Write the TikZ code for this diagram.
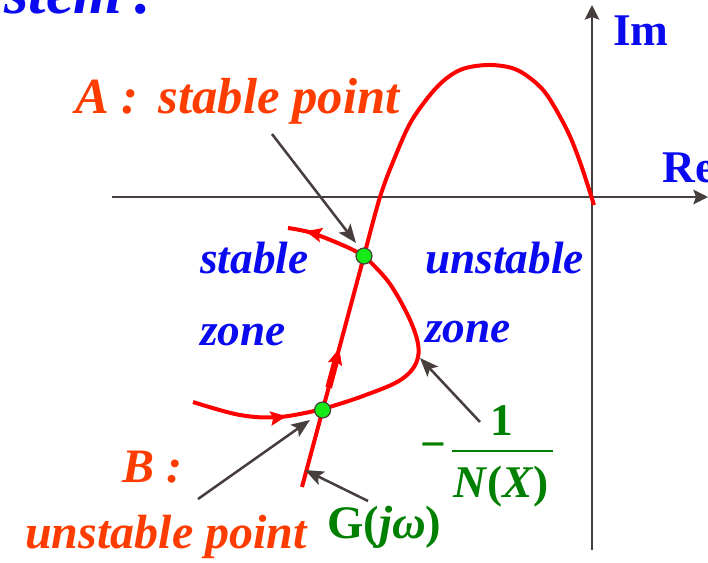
\documentclass[tikz,border=0pt]{standalone}
\usepackage{fontspec}
\setmainfont{Liberation Serif}
\usetikzlibrary{arrows.meta,decorations.markings,calc}
\definecolor{ored}{RGB}{255,60,0}
\definecolor{tblue}{RGB}{10,10,240}
\definecolor{tgreen}{RGB}{0,128,0}
\definecolor{pgray}{RGB}{72,62,62}
\definecolor{dotgreen}{RGB}{20,235,20}
\definecolor{cred}{RGB}{255,0,0}
\tikzset{
  redtip/.tip={Stealth[length=12pt,width=10.5pt,inset=2pt]},
  axistip/.tip={Stealth[length=11pt,width=11pt,inset=2pt]},
  pointtip/.tip={Stealth[length=14pt,width=11pt,inset=3pt]},
}
\begin{document}
\begin{tikzpicture}[x=0.75pt,y=-0.75pt,
  axis/.style={pgray, line width=1.5pt, -axistip},
  curve/.style={cred, line width=3pt},
  pointer/.style={pgray, line width=1.9pt, -pointtip},
  dot/.style={circle, fill=dotgreen, draw=pgray, line width=0.9pt, minimum size=12pt, inner sep=0pt},
  lbl/.style={inner sep=0pt, anchor=base west},
  orangetxt/.style={lbl, text=ored, font=\fontsize{36}{40}\selectfont\bfseries\itshape},
  bluetxt/.style={lbl, text=tblue, font=\fontsize{34}{38}\selectfont\bfseries\itshape},
  greentxt/.style={inner sep=0pt, text=tgreen, font=\fontsize{34}{38}\selectfont\bfseries},
  midarrow/.style={decoration={markings, mark=at position #1 with {\arrow{redtip}}}, postaction={decorate}},
]
\useasboundingbox (0,0) rectangle (708,562);

% axes
\coordinate (reL) at (112,197);
\coordinate (reR) at (708,197);
\coordinate (imB) at (592,550);
\coordinate (imT) at (592,5);
\draw[axis] (reL) -- (reR);
\draw[axis] (imB) -- (imT);
\node[lbl, text=tblue, font=\fontsize{34}{38}\selectfont\bfseries] (Im) at (613,45) {Im};
\node[lbl, text=tblue, font=\fontsize{34}{38}\selectfont\bfseries] (Re) at (662,182) {Re};

% top-left cropped title
\node[lbl, text=tblue, font=\fontsize{47}{50}\selectfont\bfseries\itshape] (stem) at (4,13) {stem\,:};

% G(jw) curve
\coordinate (g0) at (302,487);
\coordinate (gA) at (364,256);
\draw[curve, midarrow=0.6] (g0) -- (gA);
\draw[cred, line width=5pt] ($(g0)!0.43!(gA)$) -- ($(g0)!0.57!(gA)$);
\draw[curve] plot[smooth, tension=0.55] coordinates {(364,256) (380,197) (395,157) (412,120) (437,87) (460,70) (487,65) (512,68) (530,78) (547,95) (567,130) (580,162) (594,205)};

% -1/N(X) curve
\draw[curve, midarrow=0.72] plot[smooth, tension=0.6] coordinates {(193,402) (240,415) (280,417) (323,409)};
\draw[curve] plot[smooth, tension=0.6] coordinates {(323,409) (363,396) (402,379) (418,357) (413,327) (390,284) (364,256)};
\draw[curve, midarrow=0.78] plot[smooth, tension=0.6] coordinates {(364,256) (347,247) (312,233) (288,228)};

% intersection points
\node[dot] (A) at (364,256) {};
\node[dot] (B) at (322.6,410) {};

% labels
\node[orangetxt, font=\fontsize{38}{42}\selectfont\bfseries\itshape] (Alab) at (75,113) {A :\hspace{0.4em}stable point};
\node[orangetxt] (Blab) at (122,482) {B :};
\node[orangetxt] (Bpt) at (25,548) {unstable point};
\node[bluetxt] (st) at (200,273) {stable};
\node[bluetxt] (sz) at (200,345) {zone};
\node[bluetxt] (ust) at (425,273) {unstable};
\node[bluetxt] (uz) at (425,342) {zone};

\node[greentxt, anchor=base west, font=\fontsize{35}{38}\selectfont\bfseries] (G) at (327,538) {G(\textit{jω})};
\node[greentxt, anchor=base] (one) at (502,435) {1};
\node[greentxt, anchor=base] (den) at (501,497) {\textit{N}(\textit{X})};
\node[greentxt, anchor=center] (minus) at (433,451) {−};
\coordinate (barL) at (452,451);
\coordinate (barR) at (553,451);
\draw[tgreen, line width=2.2pt] (barL) -- (barR);

% pointers
\coordinate (pA0) at (272,134);
\coordinate (pA1) at (356,243);
\coordinate (pB0) at (198,499);
\coordinate (pB1) at (310,420);
\coordinate (pG0) at (368,501);
\coordinate (pG1) at (305,470);
\coordinate (pN0) at (480,422);
\coordinate (pN1) at (420,358);
\draw[pointer] (pA0) -- (pA1);
\draw[pointer] (pB0) -- (pB1);
\draw[pointer] (pG0) -- (pG1);
\draw[pointer] (pN0) -- (pN1);
\end{tikzpicture}
\end{document}
